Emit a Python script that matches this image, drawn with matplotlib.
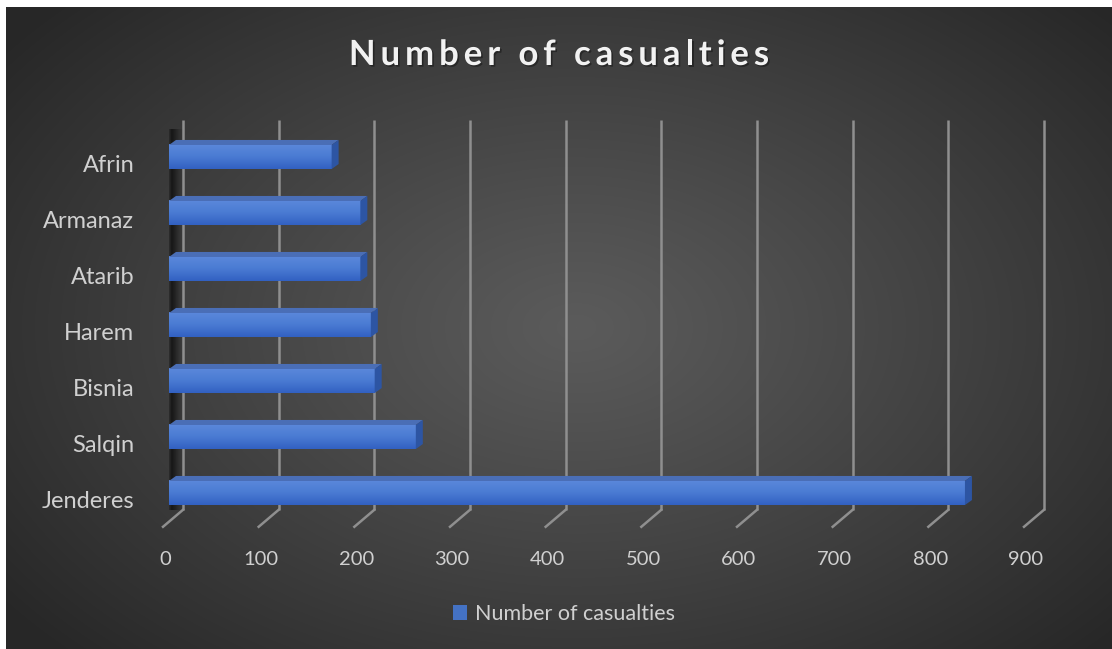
import numpy as np
import matplotlib
matplotlib.use("Agg")
import matplotlib.pyplot as plt
import matplotlib.patheffects as pe
from matplotlib.patches import Polygon, Patch
from matplotlib.colors import LinearSegmentedColormap
from matplotlib.transforms import ScaledTranslation

plt.rcParams['font.family'] = ['Lato', 'DejaVu Sans']

# data (bottom to top, as Excel draws it)
towns = ['Jenderes', 'Salqin', 'Bisnia', 'Harem', 'Atarib', 'Armanaz', 'Afrin']
casualties = [832, 258, 215, 211, 200, 200, 170]
xticks = [0, 100, 200, 300, 400, 500, 600, 700, 800, 900]
series_name = 'Number of casualties'
title = 'Number of casualties'

W, H = 1112, 649
fig = plt.figure(figsize=(W / 100, H / 100), dpi=100)
fig.patch.set_facecolor('white')

# background with radial gradient
bg = fig.add_axes([6 / W, 0, 1 - 6 / W, 1 - 7 / H])
bg.set_axis_off()
yy, xx = np.mgrid[0:642, 0:1106]
r = np.sqrt(((xx - 570) / 720.0) ** 2 + ((yy - 320) / 470.0) ** 2)
r = np.clip(r, 0, 1)
val = 0x5b - (0x5b - 0x27) * r ** 1.1
img = np.dstack([val, val, val]) / 255.0
bg.imshow(img, aspect='auto', extent=[0, 1, 0, 1], origin='upper')
bg.set_xlim(0, 1)
bg.set_ylim(0, 1)

# plot axes: front plane, x 0..900 -> px 169..1030, y -0.5..6.5 -> px 521..129
ax = fig.add_axes([169 / W, (H - 521) / H, 861 / W, 392 / H])
ax.set_facecolor('none')
for s in ax.spines.values():
    s.set_visible(False)
kx = 900 / 861.0   # data units per pixel
ky = 1 / 56.0

# left wall shadow
shade = np.linspace(0, 1, 60).reshape(1, -1)
wall_cmap = LinearSegmentedColormap.from_list('wall', [(0, (0.16, 0.16, 0.16, 0.0)),
                                                       (0.3, (0.07, 0.07, 0.07, 0.9)),
                                                       (0.5, (0.1, 0.1, 0.1, 0.7)),
                                                       (1, (0.2, 0.2, 0.2, 0.0))])
ax.imshow(shade, cmap=wall_cmap, aspect='auto',
          extent=[-3 * kx, 16 * kx, -0.3, 6.66], zorder=1)

# back wall gridlines with floor diagonals
y_top = 6.66
y_base = -0.30
for v in xticks:
    ax.plot([v + 14 * kx, v + 14 * kx], [y_top, y_base], color='#8f8f8f', lw=1.8,
            zorder=2, clip_on=False, solid_capstyle='butt')
    ax.plot([v + 14 * kx, v - 6 * kx], [y_base, y_base - 17 * ky], color='#8f8f8f',
            lw=1.8, zorder=2, clip_on=False)
    ax.text(v - 4 * kx, -1.18, str(v), ha='center', va='center', fontsize=14.5,
            color='#d0d0d0')

# 3D-looking bars
h = 0.43
dx, dy = 7 * kx, 5 * ky
front_cmap = LinearSegmentedColormap.from_list('front', ['#3261c2', '#4a7bd3', '#5b88db'])
grad = np.linspace(0, 1, 50).reshape(-1, 1)
bars = ax.barh(range(len(towns)), casualties, height=h, color='#4472c4', zorder=3)
for y, (b, v) in enumerate(zip(bars, casualties)):
    ax.imshow(grad, cmap=front_cmap, aspect='auto', origin='lower',
              extent=[0, v, y - h / 2, y + h / 2], zorder=3.1)
    top = Polygon([(0, y + h / 2), (v, y + h / 2), (v + dx, y + h / 2 + dy),
                   (dx, y + h / 2 + dy)], closed=True, fc='#4a6eb6', ec='none', zorder=3.2)
    side = Polygon([(v, y - h / 2), (v, y + h / 2), (v + dx, y + h / 2 + dy),
                    (v + dx, y - h / 2 + dy)], closed=True, fc='#2d55a3', ec='none', zorder=3.2)
    ax.add_patch(top)
    ax.add_patch(side)

ax.set_xlim(0, 900)
ax.set_ylim(-0.5, 6.5)
ax.set_xticks([])
ax.set_yticks(range(len(towns)))
ax.set_yticklabels(towns, fontsize=17, color='#d0d0d0')
ax.tick_params(axis='y', length=0, pad=25)
for lab in ax.get_yticklabels():
    lab.set_transform(lab.get_transform() + ScaledTranslation(0, -6 / 100, fig.dpi_scale_trans))

# title with letter spacing (drawn char by char)
renderer = fig.canvas.get_renderer()
tkw = dict(fontsize=25, fontweight='bold', color='#f2f2f2',
           path_effects=[pe.withSimplePatchShadow(offset=(1.2, -1.2), shadow_rgbFace='black',
                                                   alpha=0.35)])


def text_w(s):
    t = fig.text(0, 0, s, **tkw)
    w = t.get_window_extent(renderer).width
    t.remove()
    return w


spacing = 4.9
wI = text_w('I')
offsets = [text_w(title[:i] + 'I') - wI if i else 0 for i in range(len(title))]
total = offsets[-1] + text_w(title[-1]) + spacing * (len(title) - 1)
x0 = 559 - total / 2
for i, ch in enumerate(title):
    if ch == ' ':
        continue
    fig.text((x0 + offsets[i] + spacing * i) / W, 1 - 55 / H, ch, ha='left', va='center', **tkw)

# legend
fig.legend(handles=[Patch(facecolor='#4472c4', edgecolor='none', label=series_name)],
           loc='center', bbox_to_anchor=(564 / W, 1 - 614 / H), frameon=False,
           fontsize=15.5, labelcolor='#d0d0d0', handlelength=0.65, handleheight=0.65,
           handletextpad=0.35)

fig.savefig('out.png', dpi=100, facecolor=fig.get_facecolor())
